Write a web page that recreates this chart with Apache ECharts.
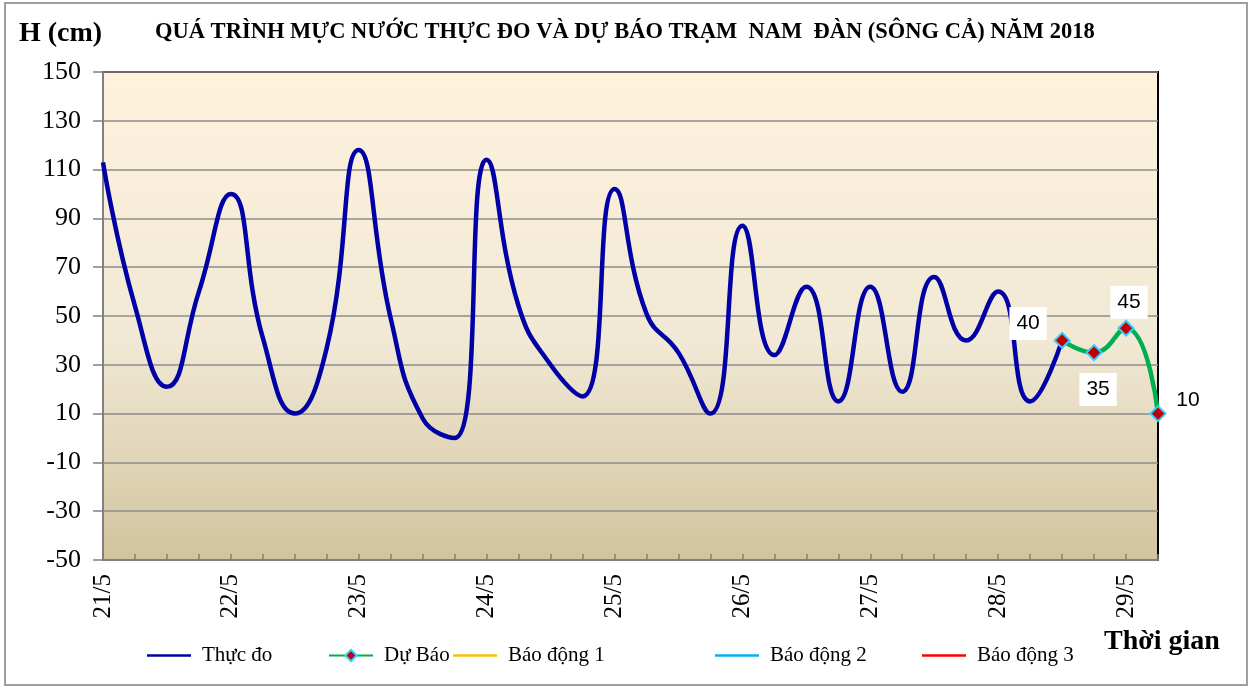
<!DOCTYPE html>
<html>
<head>
<meta charset="utf-8">
<script src="https://cdn.jsdelivr.net/npm/echarts@6/dist/echarts.min.js"></script>
<style>
  html, body { margin: 0; padding: 0; background: #fff; }
  #main { width: 1253px; height: 688px; }
</style>
</head>
<body>
<div id="main"></div>
<script>
// categories: observations every 6 hours, 21/5 -> 29/5
var categories = [
  '21/5 01h', '21/5 07h', '21/5 13h', '21/5 19h',
  '22/5 01h', '22/5 07h', '22/5 13h', '22/5 19h',
  '23/5 01h', '23/5 07h', '23/5 13h', '23/5 19h',
  '24/5 01h', '24/5 07h', '24/5 13h', '24/5 19h',
  '25/5 01h', '25/5 07h', '25/5 13h', '25/5 19h',
  '26/5 01h', '26/5 07h', '26/5 13h', '26/5 19h',
  '27/5 01h', '27/5 07h', '27/5 13h', '27/5 19h',
  '28/5 01h', '28/5 07h', '28/5 13h', '28/5 19h',
  '29/5 01h', '29/5 07h'
];
// Thực đo (cm)
var observed = [113, 54, 21, 60, 100, 41, 10, 37, 118, 49, 8, 0, 114, 54, 30, 17,
  102, 51, 35, 10, 87, 34, 62, 15, 62, 19, 66, 40, 60, 15, 40];
// Dự Báo (cm), starting at index 30
var forecastStart = 30;
var forecast = [40, 35, 45, 10];
// báo động levels (above the visible range)
var alarm1 = [];
var alarm2 = [];
var alarm3 = [];
var yTicks = { min: -50, max: 150, interval: 20 };

var labelOffsets = [[-34, -17], [4, 37], [3, -26], [30, -13]];

var forecastData = categories.map(function (c, i) {
  var k = i - forecastStart;
  if (k < 0 || k >= forecast.length) return null;
  return { value: forecast[k], label: { offset: labelOffsets[k] } };
});

var chart = echarts.init(document.getElementById('main'), null, { renderer: 'canvas' });
var serif = '"Liberation Serif", "Times New Roman", serif';
var sans = '"Liberation Sans", Arial, sans-serif';

// plain line legend (no marker) or the series' own icon
function legendItem(name, left, plain, color) {
  return {
    data: plain ? [{ name: name, icon: 'rect', itemStyle: { color: color } }] : [name],
    left: left, top: 645, padding: 0,
    itemWidth: 44, itemHeight: plain ? 2.5 : 14,
    textStyle: { fontFamily: serif, fontSize: 21, color: '#000', padding: [0, 0, 0, 6] }
  };
}

var option = {
  animation: false,
  backgroundColor: '#fff',
  graphic: [
    { type: 'rect', shape: { x: 5, y: 3, width: 1242, height: 682 },
      style: { fill: 'none', stroke: '#A0A0A0', lineWidth: 2 }, silent: true },
    { type: 'text', left: 19, top: 20,
      style: { text: 'H (cm)', font: 'bold 28px ' + serif, fill: '#000' } },
    { type: 'text', left: 155, top: 21,
      style: { text: 'QUÁ TRÌNH MỰC NƯỚC THỰC ĐO VÀ DỰ BÁO TRẠM  NAM  ĐÀN (SÔNG CẢ) NĂM 2018',
               font: 'bold 22.5px ' + serif, fill: '#000' } },
    { type: 'text', left: 1104, top: 628,
      style: { text: 'Thời gian', font: 'bold 28px ' + serif, fill: '#000' } }
  ],
  legend: [
    legendItem('Thực đo', 147, true, '#0000A6'),
    legendItem('Dự Báo', 328, false),
    legendItem('Báo động 1', 453, true, '#FFC000'),
    legendItem('Báo động 2', 715, true, '#00B0F0'),
    legendItem('Báo động 3', 922, true, '#FF0000')
  ],
  grid: {
    left: 103, right: 95, top: 72, bottom: 128,
    show: true,
    borderColor: '#000', borderWidth: 2,
    backgroundColor: new echarts.graphic.LinearGradient(0, 0, 0, 1, [
      { offset: 0, color: '#FEF2DD' },
      { offset: 0.55, color: '#F1E9D5' },
      { offset: 1, color: '#D2C39E' }
    ])
  },
  xAxis: {
    type: 'category',
    data: categories,
    boundaryGap: false,
    axisLine: { onZero: false, lineStyle: { color: '#808080', width: 2 } },
    axisTick: { show: true, inside: true, length: 6, interval: 0, lineStyle: { color: '#808080', width: 1.5 } },
    axisLabel: {
      interval: 3, rotate: 90, margin: 14,
      fontFamily: serif, fontSize: 25, color: '#000',
      formatter: function (v) { return v.split(' ')[0]; }
    },
    splitLine: { show: false }
  },
  yAxis: {
    type: 'value',
    min: yTicks.min, max: yTicks.max, interval: yTicks.interval,
    axisLine: { show: true, lineStyle: { color: '#808080', width: 2 } },
    axisTick: { show: true, length: 10, lineStyle: { color: '#808080', width: 1.5 } },
    axisLabel: { margin: 22, fontFamily: serif, fontSize: 26, color: '#000' },
    splitLine: { lineStyle: { color: '#8C8C8C', width: 1.5 } }
  },
  series: [
    {
      name: 'Thực đo', type: 'line', data: observed,
      smooth: 0.5, symbol: 'none',
      lineStyle: { color: '#0000A6', width: 4.5 },
      itemStyle: { color: '#0000A6' }, z: 3
    },
    {
      name: 'Dự Báo', type: 'line', data: forecastData,
      smooth: 0.5, symbol: 'diamond', symbolSize: 15, showSymbol: true,
      lineStyle: { color: '#00B050', width: 4.5 },
      itemStyle: { color: '#C00000', borderColor: '#33CCFF', borderWidth: 2 },
      label: {
        show: true, position: 'inside', formatter: '{c}',
        fontFamily: sans, fontSize: 21, color: '#000',
        backgroundColor: '#fff', padding: [6, 7]
      },
      z: 4
    },
    { name: 'Báo động 1', type: 'line', data: alarm1, symbol: 'none',
      lineStyle: { color: '#FFC000', width: 2 }, itemStyle: { color: '#FFC000' } },
    { name: 'Báo động 2', type: 'line', data: alarm2, symbol: 'none',
      lineStyle: { color: '#00B0F0', width: 2 }, itemStyle: { color: '#00B0F0' } },
    { name: 'Báo động 3', type: 'line', data: alarm3, symbol: 'none',
      lineStyle: { color: '#FF0000', width: 2 }, itemStyle: { color: '#FF0000' } }
  ]
};

chart.setOption(option);
window.addEventListener('resize', chart.resize);
</script>
</body>
</html>
